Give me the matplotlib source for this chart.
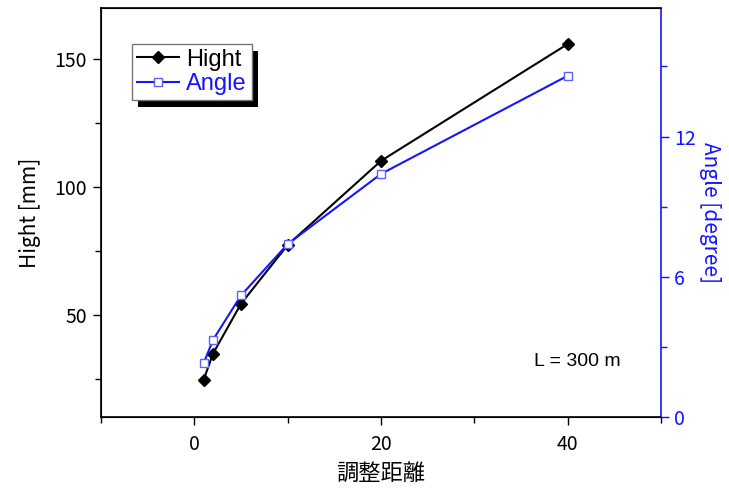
import matplotlib
matplotlib.use("Agg")
import matplotlib.pyplot as plt
from matplotlib.ticker import MultipleLocator
from matplotlib.lines import Line2D
from matplotlib.patches import Rectangle

plt.rcParams['font.family'] = ['Noto Sans CJK JP', 'DejaVu Sans']

distance = [1, 2, 5, 10, 20, 40]
hight = [24.6, 34.8, 54.3, 77.3, 110.2, 155.9]
angle = [2.3, 3.3, 5.2, 7.4, 10.4, 14.6]

x_label = "調整距離"
y_label = "Hight [mm]"
y2_label = "Angle [degree]"
note = "L = 300 m"

BLUE = '#1414ff'
W, H = 729, 493
fig = plt.figure(figsize=(W/100, H/100), dpi=100)
ax = fig.add_axes([101/W, 1-417/H, 560/W, 409/H])
ax2 = ax.twinx()

ax.plot(distance, hight, color='black', lw=1.5, marker='D', ms=6.5,
        markerfacecolor='black', markeredgecolor='black', zorder=3)
ax2.plot(distance, angle, color=BLUE, lw=1.5, marker='s', ms=6,
         markerfacecolor='white', markeredgecolor='#6060ff', mew=1.0, zorder=4)

ax.set_xlim(-10, 50)
ax.set_ylim(10, 170)
ax2.set_ylim(0, 17.5)

ax.xaxis.set_major_locator(MultipleLocator(20))
ax.xaxis.set_minor_locator(MultipleLocator(10))
ax.yaxis.set_major_locator(MultipleLocator(50))
ax.yaxis.set_minor_locator(MultipleLocator(25))
ax2.yaxis.set_major_locator(MultipleLocator(6))
ax2.yaxis.set_minor_locator(MultipleLocator(3))

for a in (ax, ax2):
    a.tick_params(which='major', direction='out', length=6, width=1, labelsize=14)
    a.tick_params(which='minor', direction='out', length=4, width=1)
ax.tick_params(axis='x', pad=6)
ax.tick_params(axis='y', pad=4)

for s in ['left', 'bottom', 'top']:
    ax.spines[s].set_linewidth(1.2)
ax2.spines['right'].set_color(BLUE)
ax2.spines['right'].set_linewidth(1.2)
ax2.tick_params(axis='y', which='both', colors=BLUE, labelcolor=BLUE)
ax.spines['right'].set_visible(False)

ax.set_xlabel(x_label, fontsize=16, labelpad=5)
ax.set_ylabel(y_label, fontsize=15, labelpad=10)
ax2.set_ylabel(y2_label, fontsize=15, color=BLUE, rotation=270, labelpad=18)

ax.text(577, H-362, note, transform=None, fontsize=14, ha='center', va='center',
        family=['Liberation Sans'])

# legend
handles = [
    Line2D([], [], color='black', lw=1.5, marker='D', ms=6.5,
           markerfacecolor='black', markeredgecolor='black'),
    Line2D([], [], color=BLUE, lw=1.5, marker='s', ms=5.5,
           markerfacecolor='white', markeredgecolor='#6060ff'),
]
leg = ax2.legend(handles, ['Hight', 'Angle'], loc='upper left',
                 bbox_to_anchor=((132-101)/560, (417-44)/409),
                 frameon=True, fancybox=False,
                 edgecolor='#777777', framealpha=1, borderpad=0.2,
                 handlelength=1.8, handletextpad=0.3, labelspacing=0.1,
                 borderaxespad=0, prop={'family': 'Liberation Sans', 'size': 17})
leg.get_frame().set_linewidth(1.0)
leg.set_zorder(10)
for t, c in zip(leg.get_texts(), ['black', BLUE]):
    t.set_color(c)

fig.canvas.draw()
bb = leg.get_window_extent()
shadow = Rectangle((bb.x0 + 6, bb.y0 - 7), bb.width, bb.height, transform=None,
                   facecolor='black', edgecolor='none', zorder=9)
ax2.add_artist(shadow)

fig.savefig("out.png", dpi=100)
